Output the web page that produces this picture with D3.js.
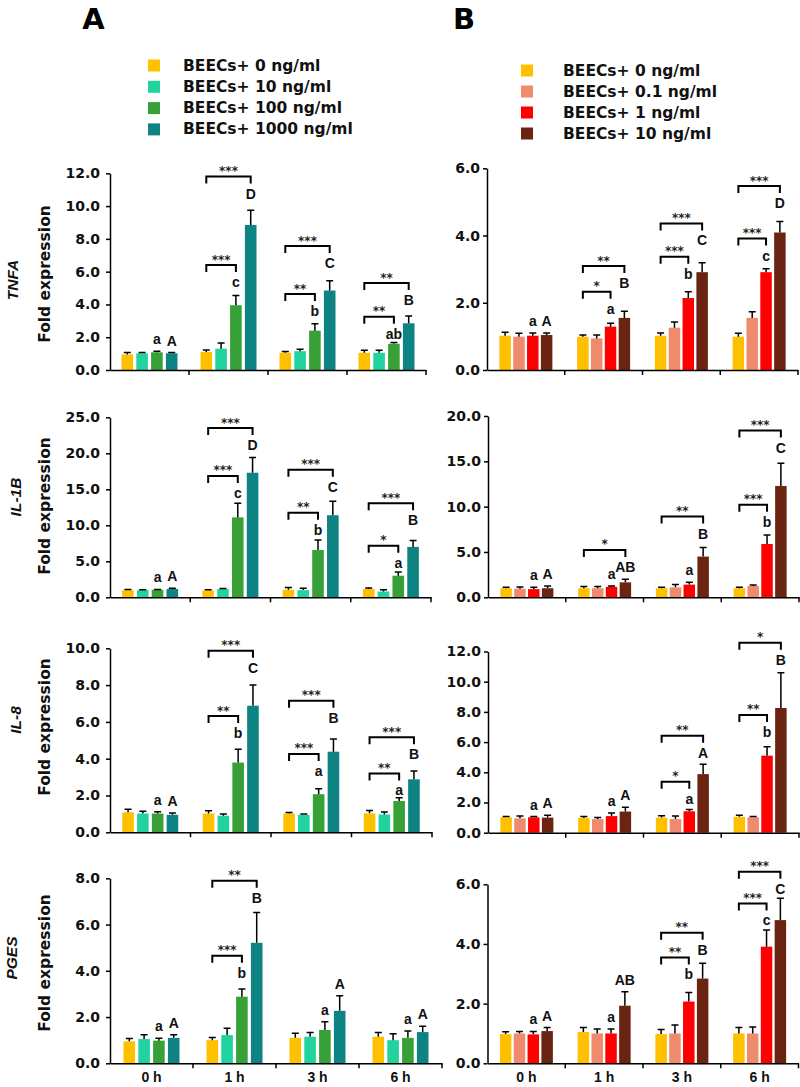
<!DOCTYPE html>
<html><head><meta charset="utf-8">
<script src="https://cdn.jsdelivr.net/npm/d3@7"></script>
<style>body{margin:0;background:#fff} svg{display:block}</style>
</head><body>
<svg id="chart" width="800" height="1087"></svg>
<script>
// ---------------- DATA ----------------
const groups = ["0 h", "1 h", "3 h", "6 h"];
const seriesA = ["BEECs+ 0 ng/ml", "BEECs+ 10 ng/ml", "BEECs+ 100 ng/ml", "BEECs+ 1000 ng/ml"];
const seriesB = ["BEECs+ 0 ng/ml", "BEECs+ 0.1 ng/ml", "BEECs+ 1 ng/ml", "BEECs+ 10 ng/ml"];
const colorsA = ["#FFC000", "#22D3A0", "#37A037", "#0D8383"];
const colorsB = ["#FFC000", "#F08A6C", "#FF0000", "#6B2411"];
const genes = ["TNFA", "IL-1B", "IL-8", "PGES"];

// values[group][series], errors[group][series]
const tnfaA = [[0.95,1.02,1.08,1.02],[1.1,1.3,3.95,8.85],[1.05,1.15,2.4,4.85],[1.05,1.05,1.6,2.85]];
const tnfaAErr = [[0.12,0.05,0.06,0.04],[0.12,0.35,0.6,0.9],[0.08,0.12,0.42,0.6],[0.15,0.15,0.08,0.45]];
const tnfaB = [[1.02,0.99,1.02,1.04],[0.99,0.94,1.29,1.55],[1.02,1.26,2.14,2.91],[0.99,1.55,2.91,4.09]];
const tnfaBErr = [[0.1,0.1,0.08,0.06],[0.05,0.1,0.1,0.2],[0.08,0.17,0.19,0.28],[0.1,0.18,0.1,0.33]];
const il1bA = [[1.0,1.0,1.05,1.15],[0.95,1.15,11.1,17.3],[1.05,1.0,6.57,11.4],[1.15,0.8,3.0,7.0]];
const il1bAErr = [[0.1,0.05,0.05,0.1],[0.1,0.08,1.95,2.1],[0.3,0.25,1.4,1.95],[0.15,0.25,0.5,0.9]];
const il1bB = [[1.0,0.95,0.9,1.0],[1.0,1.0,1.15,1.65],[1.0,1.1,1.4,4.49],[1.0,1.25,5.88,12.28]];
const il1bBErr = [[0.1,0.2,0.2,0.25],[0.2,0.2,0.1,0.35],[0.1,0.3,0.25,0.99],[0.1,0.1,0.99,2.5]];
const il8A = [[1.09,1.02,1.02,0.95],[1.02,0.9,3.79,6.88],[1.02,0.95,2.07,4.38],[1.03,0.97,1.7,2.88]];
const il8AErr = [[0.16,0.12,0.1,0.1],[0.15,0.1,0.72,1.12],[0.05,0.05,0.3,0.69],[0.15,0.13,0.18,0.45]];
const il8B = [[1.02,0.95,1.02,1.0],[0.98,0.9,1.1,1.4],[1.0,0.9,1.42,3.88],[1.05,1.02,5.1,8.26]];
const il8BErr = [[0.05,0.15,0.05,0.15],[0.1,0.1,0.2,0.28],[0.12,0.2,0.12,0.66],[0.1,0.05,0.6,2.34]];
const pgesA = [[0.95,1.05,0.98,1.1],[1.0,1.22,2.88,5.21],[1.1,1.15,1.44,2.27],[1.15,1.0,1.1,1.35]];
const pgesAErr = [[0.12,0.18,0.1,0.14],[0.12,0.3,0.33,1.31],[0.2,0.18,0.36,0.65],[0.18,0.28,0.3,0.25]];
const pgesB = [[0.98,1.0,0.97,1.08],[1.05,1.0,1.0,1.93],[0.98,1.0,2.07,2.84],[1.0,1.0,3.91,4.8]];
const pgesBErr = [[0.08,0.07,0.1,0.12],[0.15,0.15,0.15,0.47],[0.15,0.28,0.3,0.51],[0.2,0.22,0.56,0.73]];

// brackets: [group index, target series index, level (data units), stars]
const tnfaABr = [[1,3,11.8,"***"],[1,2,6.4,"***"],[2,3,7.56,"***"],[2,2,4.63,"**"],[3,3,5.3,"**"],[3,2,3.25,"**"]];
const tnfaBBr = [[1,3,3.09,"**"],[1,2,2.33,"*"],[2,3,4.36,"***"],[2,2,3.37,"***"],[3,3,5.47,"***"],[3,2,3.91,"***"]];
const il1bABr = [[1,3,23.5,"***"],[1,2,16.85,"***"],[2,3,17.7,"***"],[2,2,11.75,"**"],[3,3,13.05,"***"],[3,2,7.17,"*"]];
const il1bBBr = [[1,3,5.22,"*"],[2,3,8.9,"**"],[3,3,18.4,"***"],[3,2,10.2,"***"]];
const il8ABr = [[1,3,9.87,"***"],[1,2,6.32,"**"],[2,3,7.15,"***"],[2,2,4.26,"***"],[3,3,5.16,"***"],[3,2,3.2,"**"]];
const il8BBr = [[2,3,6.42,"**"],[2,2,3.38,"*"],[3,3,12.58,"*"],[3,2,7.8,"**"]];
const pgesABr = [[1,3,7.89,"**"],[1,2,4.65,"***"]];
const pgesBBr = [[2,3,4.38,"**"],[2,2,3.55,"**"],[3,3,6.42,"***"],[3,2,5.36,"***"]];

// letters over series 3 and 4 of each group
const tnfaALet = [["a","A"],["c","D"],["b","C"],["ab","B"]];
const tnfaBLet = [["a","A"],["a","B"],["b","C"],["c","D"]];
const il1bALet = [["a","A"],["c","D"],["b","C"],["a","B"]];
const il1bBLet = [["a","A"],["a","AB"],["a","B"],["b","C"]];
const il8ALet = [["a","A"],["b","C"],["a","B"],["a","B"]];
const il8BLet = [["a","A"],["a","A"],["a","A"],["b","B"]];
const pgesALet = [["a","A"],["b","B"],["a","A"],["a","A"]];
const pgesBLet = [["a","A"],["a","AB"],["b","B"],["c","C"]];

// tick values
const ticksTnfaA = [0,2,4,6,8,10,12];
const ticksTnfaB = [0,2,4,6];
const ticksIl1bA = [0,5,10,15,20,25];
const ticksIl1bB = [0,5,10,15,20];
const ticksIl8A = [0,2,4,6,8,10];
const ticksIl8B = [0,2,4,6,8,10,12];
const ticksPgesA = [0,2,4,6,8];
const ticksPgesB = [0,2,4,6];

// ---------------- LAYOUT ----------------
const BOLD = "'DejaVu Sans', sans-serif";
const ARIAL = "'Liberation Sans', Arial, sans-serif";
const layoutA = [
  {left:110, right:426, y0:370, yT:173.3},
  {left:110, right:431, y0:597.3, yT:417.3},
  {left:110, right:432, y0:832.3, yT:648.3},
  {left:110, right:442, y0:1063.3, yT:878.3}
];
const layoutB = [
  {left:487, right:798, y0:370, yT:168.3},
  {left:488, right:799, y0:597.3, yT:416},
  {left:488, right:799, y0:832.7, yT:651.5},
  {left:487.5, right:798.5, y0:1063.3, yT:884.3}
];
const geneLabelPos = [[12,280],[15,497],[15,720],[11,958]];
const foldLabelY = [274,506,727,963];

const panels = [
  {col:"A", row:0, vals:tnfaA, err:tnfaAErr, br:tnfaABr, let:tnfaALet, ticks:ticksTnfaA},
  {col:"B", row:0, vals:tnfaB, err:tnfaBErr, br:tnfaBBr, let:tnfaBLet, ticks:ticksTnfaB},
  {col:"A", row:1, vals:il1bA, err:il1bAErr, br:il1bABr, let:il1bALet, ticks:ticksIl1bA},
  {col:"B", row:1, vals:il1bB, err:il1bBErr, br:il1bBBr, let:il1bBLet, ticks:ticksIl1bB},
  {col:"A", row:2, vals:il8A, err:il8AErr, br:il8ABr, let:il8ALet, ticks:ticksIl8A},
  {col:"B", row:2, vals:il8B, err:il8BErr, br:il8BBr, let:il8BLet, ticks:ticksIl8B},
  {col:"A", row:3, vals:pgesA, err:pgesAErr, br:pgesABr, let:pgesALet, ticks:ticksPgesA},
  {col:"B", row:3, vals:pgesB, err:pgesBErr, br:pgesBBr, let:pgesBLet, ticks:ticksPgesB}
];

const svg = d3.select("#chart");

function drawPanel(p) {
  const L = (p.col === "A" ? layoutA : layoutB)[p.row];
  const colors = p.col === "A" ? colorsA : colorsB;
  const span = p.col === "A" ? 56 : 53;
  const pad = p.col === "A" ? 0.216 : 0.17;
  const y = d3.scaleLinear().domain([0, d3.max(p.ticks)]).range([L.y0, L.yT]);
  const x0 = d3.scaleBand().domain(groups).range([L.left, L.right]).padding(0);
  const W = x0.bandwidth();
  const x1 = d3.scaleBand().domain(d3.range(4)).range([(W - span) / 2, (W + span) / 2]).paddingInner(pad).paddingOuter(0);
  const bw = x1.bandwidth();
  const cx = (gi, si) => x0(groups[gi]) + x1(si) + bw / 2;

  const g = svg.append("g");
  const data = groups.flatMap((grp, gi) => p.vals[gi].map((v, si) => ({gi, si, v, e: p.err[gi][si]})));

  // bars
  g.append("g").selectAll("rect").data(data).join("rect")
    .attr("x", d => x0(groups[d.gi]) + x1(d.si))
    .attr("width", bw)
    .attr("y", d => y(d.v))
    .attr("height", d => y(0) - y(d.v))
    .attr("fill", d => colors[d.si]);

  // error bars
  g.append("g").selectAll("path").data(data).join("path")
    .attr("d", d => {
      const c = cx(d.gi, d.si), t = y(d.v + d.e);
      return `M${c},${y(d.v)}V${t}M${c - 3.5},${t}H${c + 3.5}`;
    })
    .attr("stroke", "#000").attr("stroke-width", 1.5).attr("fill", "none");

  // y axis
  const ya = g.append("g").attr("transform", `translate(${L.left},0)`)
    .call(d3.axisLeft(y).tickValues(p.ticks).tickFormat(d3.format(".1f"))
      .tickSize(4).tickSizeOuter(0).tickPadding(p.col === "A" ? 6 : 3));
  ya.select(".domain").attr("stroke-width", 1.5);
  ya.selectAll(".tick line").attr("stroke-width", 1.5);
  ya.selectAll("text").attr("font-family", BOLD).attr("font-weight", "bold").attr("font-size", 14).attr("fill", "#111");

  // x axis
  const xa = g.append("g").attr("transform", `translate(0,${L.y0})`)
    .call(d3.axisBottom(x0).tickSize(0).tickSizeOuter(0).tickPadding(9)
      .tickFormat(p.row === 3 ? (d => d) : (() => "")));
  xa.select(".domain").attr("stroke-width", 1.5);
  xa.selectAll("text").attr("font-family", ARIAL).attr("font-weight", "bold").attr("font-size", 14).attr("fill", "#111");
  g.append("g").selectAll("line").data(groups).join("line")
    .attr("x1", d => x0(d) + W).attr("x2", d => x0(d) + W)
    .attr("y1", L.y0).attr("y2", L.y0 + 5)
    .attr("stroke", "#000").attr("stroke-width", 1.5);

  // brackets
  const bg = g.append("g");
  p.br.forEach(([gi, to, lvl, stars]) => {
    const xa1 = cx(gi, 0), xb1 = cx(gi, to), yy = y(lvl);
    bg.append("path").attr("d", `M${xa1},${yy + 7}V${yy}H${xb1}V${yy + 7}`)
      .attr("fill", "none").attr("stroke", "#000").attr("stroke-width", 2);
    bg.append("text").attr("x", (xa1 + xb1) / 2).attr("y", yy - 1.5)
      .attr("text-anchor", "middle").attr("font-family", BOLD).attr("font-weight", "bold")
      .attr("font-size", 12).attr("fill", "#222").text(stars);
  });

  // letters
  p.let.forEach((pair, gi) => {
    pair.forEach((txt, k) => {
      const si = 2 + k;
      const b = p.br.find(r => r[0] === gi && r[1] === si);
      const ty = b ? y(b[2]) + 17 : y(p.vals[gi][si] + p.err[gi][si]) - 12;
      g.append("text").attr("x", cx(gi, si)).attr("y", ty)
        .attr("text-anchor", "middle").attr("dominant-baseline", "central")
        .attr("font-family", ARIAL).attr("font-weight", "bold").attr("font-size", 14)
        .attr("fill", "#111").text(txt);
    });
  });
}

panels.forEach(drawPanel);

// y labels (column A)
genes.forEach((gene, i) => {
  const [gx, gy] = geneLabelPos[i];
  svg.append("text").attr("transform", `translate(${gx},${gy}) rotate(-90)`)
    .attr("text-anchor", "middle").attr("dominant-baseline", "central")
    .attr("font-family", ARIAL).attr("font-weight", "bold").attr("font-style", "italic")
    .attr("font-size", 15.5).attr("fill", "#111").text(gene);
  svg.append("text").attr("transform", `translate(45,${foldLabelY[i]}) rotate(-90)`)
    .attr("text-anchor", "middle").attr("dominant-baseline", "central")
    .attr("font-family", BOLD).attr("font-weight", "bold")
    .attr("font-size", 15.5).attr("fill", "#111").text("Fold expression");
});

// panel letters
svg.append("text").attr("x", 93.5).attr("y", 28.5).attr("text-anchor", "middle")
  .attr("font-family", BOLD).attr("font-weight", "bold").attr("font-size", 29).text("A");
svg.append("text").attr("x", 464).attr("y", 28.5).attr("text-anchor", "middle")
  .attr("font-family", BOLD).attr("font-weight", "bold").attr("font-size", 29).text("B");

// legends
function legend(series, colors, mx, tx, y0, step) {
  const lg = svg.append("g");
  lg.selectAll("rect").data(series).join("rect")
    .attr("x", mx).attr("y", (d, i) => y0 + i * step - 6).attr("width", 12).attr("height", 12)
    .attr("fill", (d, i) => colors[i]);
  lg.selectAll("text").data(series).join("text")
    .attr("x", tx).attr("y", (d, i) => y0 + i * step)
    .attr("dominant-baseline", "central")
    .attr("font-family", BOLD).attr("font-weight", "bold").attr("font-size", 15.5)
    .attr("fill", "#111").text(d => d);
}
legend(seriesA, colorsA, 148, 183, 65.5, 21.3);
legend(seriesB, colorsB, 521, 563, 70.5, 21);
</script>
</body></html>
